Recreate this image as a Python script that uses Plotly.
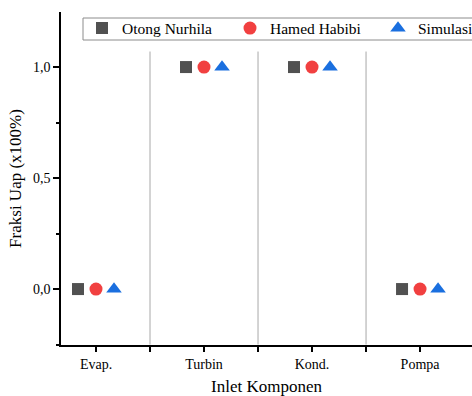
import plotly.graph_objects as go

# Komponen (inlet) dan fraksi uap tiap sumber
komponen = ["Evap.", "Turbin", "Kond.", "Pompa"]
otong_nurhila = [0.0, 1.0, 1.0, 0.0]
hamed_habibi = [0.0, 1.0, 1.0, 0.0]
simulasi = [0.0, 1.0, 1.0, 0.0]

series = [
    ("Otong Nurhila", otong_nurhila, "square", "#515151", 12, -1),
    ("Hamed Habibi", hamed_habibi, "circle", "#F14040", 13, 0),
    ("Simulasi", simulasi, "triangle-up", "#1A6FDF", 13.5, 1),
]

W, H = 472, 396
M_TOP, M_BOT = 12, 51
PLOT_H = H - M_TOP - M_BOT
font_family = "Liberation Serif, Times New Roman, serif"
offset = 0.1667  # jarak antar marker dalam satu kategori


def paper_y(px):
    """Posisi vertikal piksel (dari atas) ke koordinat paper."""
    return (H - M_BOT - px) / PLOT_H


fig = go.Figure()
idx = list(range(len(komponen)))
for name, vals, sym, col, size, k in series:
    fig.add_trace(go.Scatter(
        x=[i + k * offset for i in idx],
        y=vals,
        mode="markers",
        name=name,
        marker=dict(symbol=sym, color=col, size=size, line=dict(width=0)),
    ))

# Garis pemisah antar kategori
for i in range(len(komponen) - 1):
    fig.add_shape(type="line", xref="x", yref="y",
                  x0=i + 0.5, x1=i + 0.5, y0=-0.25, y1=1.07,
                  line=dict(color="#a8a8a8", width=1), layer="below")

# Bingkai legenda
fig.add_shape(type="rect", xref="paper", yref="paper",
              x0=83 / W, x1=1.1, y0=paper_y(40), y1=paper_y(18),
              line=dict(color="#8c8c8c", width=1), fillcolor="white", layer="below")

fig.update_layout(
    width=W, height=H,
    margin=dict(l=0, r=0, t=M_TOP, b=M_BOT, autoexpand=False),
    paper_bgcolor="white", plot_bgcolor="white",
    separators=",.",
    font=dict(family=font_family, size=13, color="black"),
    showlegend=True,
    legend=dict(
        orientation="h", x=82 / W, xanchor="left", y=paper_y(11.5), yanchor="top",
        borderwidth=0, bgcolor="rgba(0,0,0,0)",
        font=dict(family=font_family, size=15.5),
        entrywidth=103, entrywidthmode="pixels",
        itemsizing="trace",
    ),
    xaxis=dict(
        domain=[61 / W, 1],
        range=[-0.324, 3.481],
        tickmode="array", tickvals=idx, ticktext=komponen,
        ticks="outside", ticklen=5, tickwidth=1.5, tickcolor="black",
        minor=dict(tickmode="array", tickvals=[0.5, 1.5, 2.5], ticks="outside",
                   ticklen=5, tickwidth=1.5, tickcolor="black", showgrid=False),
        showline=True, linecolor="black", linewidth=1.5,
        showgrid=False, zeroline=False,
        tickfont=dict(size=14),
        title=dict(text="Inlet Komponen", font=dict(size=17), standoff=14),
    ),
    yaxis=dict(
        range=[-0.252, 1.248],
        tickmode="array", tickvals=[0.0, 0.5, 1.0], tickformat=".1f",
        ticks="outside", ticklen=6, tickwidth=1.5, tickcolor="black",
        minor=dict(tickmode="array", tickvals=[-0.25, 0.25, 0.75, 1.25], ticks="outside",
                   ticklen=3, tickwidth=1.5, tickcolor="black", showgrid=False),
        showline=True, linecolor="black", linewidth=1.5,
        showgrid=False, zeroline=False,
        tickfont=dict(size=14),
        title=dict(text="Fraksi Uap (x100%)", font=dict(size=17), standoff=7),
    ),
)

fig.write_html("out.html")
